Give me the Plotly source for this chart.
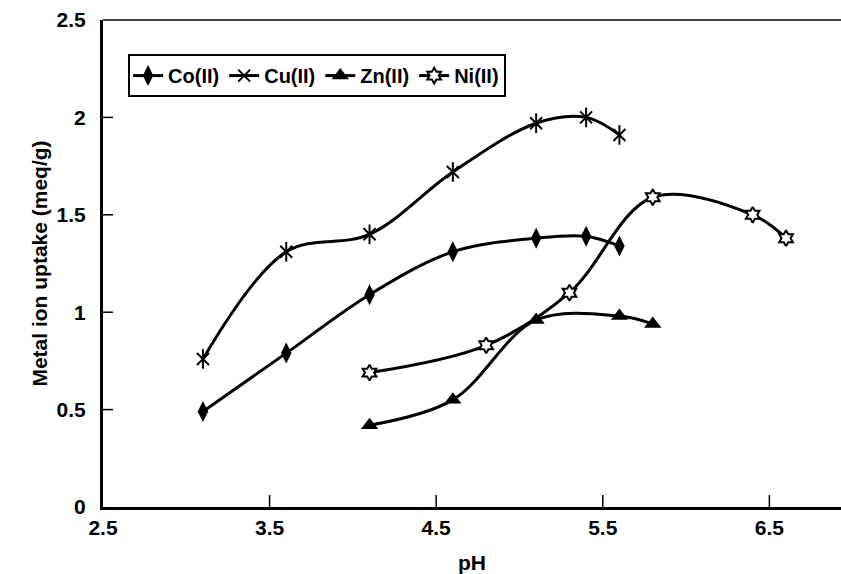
import plotly.graph_objects as go

# pH values and metal ion uptake (meq/g) for each metal
ph_co = [3.1, 3.6, 4.1, 4.6, 5.1, 5.4, 5.6]
uptake_co = [0.49, 0.79, 1.09, 1.31, 1.38, 1.39, 1.34]

ph_cu = [3.1, 3.6, 4.1, 4.6, 5.1, 5.4, 5.6]
uptake_cu = [0.76, 1.31, 1.40, 1.72, 1.97, 2.00, 1.91]

ph_zn = [4.1, 4.6, 5.1, 5.6, 5.8]
uptake_zn = [0.42, 0.55, 0.96, 0.98, 0.94]

ph_ni = [4.1, 4.8, 5.3, 5.8, 6.4, 6.6]
uptake_ni = [0.69, 0.83, 1.10, 1.59, 1.50, 1.38]

x_ticks = [2.5, 3.5, 4.5, 5.5, 6.5]
y_ticks = [0, 0.5, 1, 1.5, 2, 2.5]
y_tick_text = ["0", "0.5", "1", "1.5", "2", "2.5"]

FAMILY = "Liberation Sans, Arial, sans-serif"
TICK_FONT = dict(family=FAMILY, size=21, color="black", weight="bold")
TITLE_FONT = dict(family=FAMILY, size=21, color="black", weight="bold")
LINE = dict(color="black", width=3, shape="spline", smoothing=1)

fig = go.Figure()

fig.add_trace(go.Scatter(
    x=ph_co, y=uptake_co, name="Co(II)", mode="lines+markers",
    line=LINE,
    marker=dict(symbol="diamond-tall", size=15, color="black"),
))
fig.add_trace(go.Scatter(
    x=ph_cu, y=uptake_cu, name="Cu(II)", mode="lines+markers", legendgroup="cu",
    line=LINE,
    marker=dict(symbol="x-thin-open", size=12, color="black", line=dict(color="black", width=2)),
))
# vertical stroke completing the six-armed star marker for Cu(II)
fig.add_trace(go.Scatter(
    x=ph_cu, y=uptake_cu, mode="markers", legendgroup="cu", showlegend=False,
    marker=dict(symbol="line-ns-open", size=14, color="black", line=dict(color="black", width=2)),
))
fig.add_trace(go.Scatter(
    x=ph_zn, y=uptake_zn, name="Zn(II)", mode="lines+markers",
    line=LINE,
    marker=dict(symbol="triangle-up", size=15, color="black"),
))
fig.add_trace(go.Scatter(
    x=ph_ni, y=uptake_ni, name="Ni(II)", mode="lines+markers",
    line=LINE,
    marker=dict(symbol="hexagram", size=12, color="white", line=dict(color="black", width=2)),
))

# short inward tick marks along both axes, plus the thin top frame line
tick_line = dict(color="black", width=1.5)
shapes = [dict(type="line", xref="paper", yref="paper", x0=0, x1=1, y0=1, y1=1,
               line=dict(color="black", width=1.5))]
for v in x_ticks[1:]:
    shapes.append(dict(type="line", xref="x", yref="paper", x0=v, x1=v,
                       ysizemode="pixel", yanchor=0, y0=0, y1=12, line=tick_line))
for v in y_ticks[1:-1]:
    shapes.append(dict(type="line", yref="y", xref="paper", y0=v, y1=v,
                       xsizemode="pixel", xanchor=0, x0=0, x1=10, line=tick_line))

fig.update_layout(
    width=841, height=574,
    margin=dict(l=103, r=0, t=20, b=67),
    paper_bgcolor="white", plot_bgcolor="white",
    font=TICK_FONT,
    showlegend=True,
    legend=dict(
        orientation="h", x=0.034, y=0.93, xanchor="left", yanchor="top",
        bgcolor="white", bordercolor="black", borderwidth=2,
        font=dict(family=FAMILY, size=20, color="black", weight="bold"),
        itemwidth=30, tracegroupgap=0,
    ),
    xaxis=dict(
        range=[2.5, 6.93], tickmode="array", tickvals=x_ticks, ticktext=[str(v) for v in x_ticks],
        showgrid=False, zeroline=False,
        showline=True, linecolor="black", linewidth=3,
        ticks="", tickfont=TICK_FONT,
        title=dict(text="pH", font=TITLE_FONT, standoff=20),
    ),
    yaxis=dict(
        range=[0, 2.5], tickmode="array", tickvals=y_ticks, ticktext=y_tick_text,
        showgrid=False, zeroline=False,
        showline=True, linecolor="black", linewidth=3,
        ticks="", tickfont=TICK_FONT, ticklabelstandoff=10,
        title=dict(text="Metal ion uptake (meq/g)", font=TITLE_FONT, standoff=4),
    ),
    shapes=shapes,
)

fig.write_html("out.html")
